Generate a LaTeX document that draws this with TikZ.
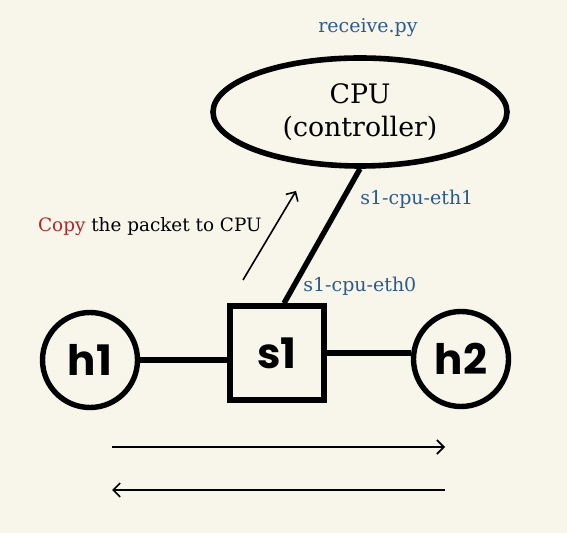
\documentclass[tikz,border=0pt]{standalone}
\usepackage{fontspec}
\setmainfont{DejaVu Serif}
\newfontfamily\handfont{Poppins}
\usetikzlibrary{shapes.geometric}
\usetikzlibrary{arrows.meta}
\usetikzlibrary{calc}
\definecolor{paper}{HTML}{F8F5EA}
\definecolor{portblue}{HTML}{2B5B8E}
\definecolor{copyred}{HTML}{B0262B}

\begin{document}
\begin{tikzpicture}[x=0.5pt, y=-0.5pt,
    host/.style={circle, draw, line width=2.7pt, minimum size=47.5pt, inner sep=0pt,
      font=\handfont\bfseries\fontsize{21}{21}\selectfont},
    switchbox/.style={rectangle, draw, line width=2.7pt, minimum size=47pt, inner sep=0pt,
      font=\handfont\bfseries\fontsize{21}{21}\selectfont},
    link/.style={line width=2.7pt},
    port/.style={text=portblue, inner sep=0pt, font=\fontsize{9.5}{11}\selectfont},
    flow/.style={line width=0.8pt, -{Straight Barb[length=3.5pt, width=7pt]}}]
        \fill[paper] (0,0) rectangle (567,533);
        \useasboundingbox (0,0) rectangle (567,533);
        % controller
        \node[ellipse, draw, line width=2.8pt, minimum width=147pt, minimum height=54pt,
          inner sep=0pt, align=center, font=\fontsize{13.4}{16.5}\selectfont] (cpu) at (360,112) {CPU\\(controller)};
        \node[port] (script) at (368,28) {receive.py};
        % hosts and switch
        \node[host] (h1) at (90,360) {h1};
        \node[switchbox] (s1) at (277,353) {s1};
        \node[host] (h2) at (461,359) {h2};
        \draw[link] (h1) -- (s1.west |- h1);
        \draw[link] (s1.east) -- (s1.east -| h2.west);
        \draw[link] (cpu.south) -- ($(s1.north)+(7,0)$);
        % port names
        \node[port, anchor=west] (eth1) at (360,199) {s1-cpu-eth1};
        \node[port, anchor=west] (eth0) at (303,286) {s1-cpu-eth0};
        % copy to cpu
        \coordinate (cpfrom) at (243,280);
        \coordinate (cpto) at (296,191);
        \draw[flow] (cpfrom) -- (cpto);
        \node[anchor=east, inner sep=0pt, font=\fontsize{9.2}{11}\selectfont] (copy) at (262,227)
          {\textcolor{copyred}{Copy} the packet to CPU};
        % traffic both ways
        \coordinate (left) at (112,447);
        \coordinate (right) at (445,447);
        \draw[flow] (left) -- (right);
        \draw[flow] ($(right)+(0,43)$) -- ($(left)+(0,43)$);
\end{tikzpicture}
\end{document}
